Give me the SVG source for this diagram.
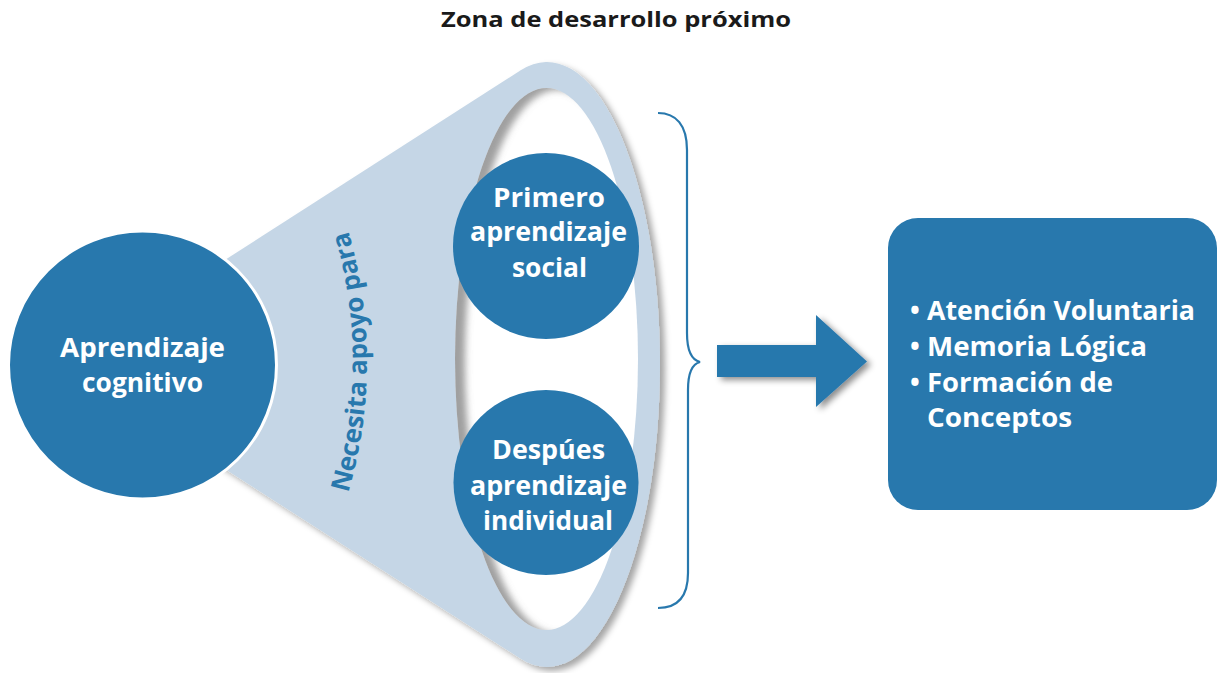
<svg xmlns="http://www.w3.org/2000/svg" width="1217" height="673" viewBox="0 0 1217 673">
<style>
.t{font-family:"Open Sans",Lato,"Liberation Sans",sans-serif;font-weight:bold;}
.w{fill:#ffffff;font-size:27px;text-anchor:middle;}
.node{fill:#2878ad;}
.lt{fill:#c5d6e6;}
.bx{fill:#ffffff;font-size:26px;}
</style>
<defs>
<filter id="sh" x="-20%" y="-20%" width="140%" height="140%">
<feGaussianBlur in="SourceAlpha" stdDeviation="3"/>
<feOffset dx="4" dy="3" result="b"/>
<feFlood flood-color="#000" flood-opacity="0.45"/>
<feComposite in2="b" operator="in"/>
<feMerge><feMergeNode/><feMergeNode in="SourceGraphic"/></feMerge>
</filter>
<filter id="sh2" x="-20%" y="-20%" width="140%" height="140%">
<feGaussianBlur in="SourceAlpha" stdDeviation="3"/>
<feOffset dx="5" dy="4" result="b"/>
<feFlood flood-color="#000" flood-opacity="0.35"/>
<feComposite in2="b" operator="in"/>
<feMerge><feMergeNode/><feMergeNode in="SourceGraphic"/></feMerge>
</filter>
<filter id="blur" x="-10%" y="-10%" width="120%" height="120%"><feGaussianBlur stdDeviation="3.5"/></filter>
<clipPath id="inner"><ellipse cx="546.5" cy="359" rx="91.5" ry="271"/></clipPath>
<path id="arc" d="M345.5,502 A467,467 0 0 0 345.5,222"/>
</defs>

<g id="title">
<text class="t" x="616" y="27" font-size="21" fill="#1a1a1a" text-anchor="middle" textLength="350" lengthAdjust="spacingAndGlyphs">Zona de desarrollo próximo</text>
</g>

<g id="funnel">
<path class="lt" filter="url(#sh2)" d="M150,308 L520.7,70.3 A113,302.5 0 1 1 520.7,658.7 L150,421 Z"/>
<ellipse cx="546.5" cy="359" rx="91.5" ry="271" fill="#ffffff"/>
<g clip-path="url(#inner)">
<path fill="#777777" fill-opacity="0.7" fill-rule="evenodd" filter="url(#blur)" d="M400,60 H700 V660 H400 Z M649,362 A92,272 0 1 0 465,362 A92,272 0 1 0 649,362 Z"/>
</g>
</g>

<g id="apoyo">
<text class="t" font-size="26" fill="#2878ad"><textPath href="#arc" startOffset="50%" text-anchor="middle">Necesita apoyo para</textPath></text>
</g>

<g id="aprendizaje-cognitivo">
<circle class="node" cx="142.5" cy="365" r="134" stroke="#ffffff" stroke-width="3"/>
<text class="t w" x="142.5" y="357" textLength="165" lengthAdjust="spacingAndGlyphs">Aprendizaje</text>
<text class="t w" x="142.5" y="392" textLength="121" lengthAdjust="spacingAndGlyphs">cognitivo</text>
</g>

<g id="primero">
<circle class="node" cx="546" cy="246" r="93"/>
<text class="t w" x="549" y="207" textLength="112" lengthAdjust="spacingAndGlyphs">Primero</text>
<text class="t w" x="548.5" y="241" textLength="157" lengthAdjust="spacingAndGlyphs">aprendizaje</text>
<text class="t w" x="549.5" y="277" textLength="75" lengthAdjust="spacingAndGlyphs">social</text>
</g>

<g id="despues">
<circle class="node" cx="546" cy="482.5" r="92.5"/>
<text class="t w" x="548.5" y="459" textLength="113" lengthAdjust="spacingAndGlyphs">Despúes</text>
<text class="t w" x="548.5" y="495" textLength="157" lengthAdjust="spacingAndGlyphs">aprendizaje</text>
<text class="t w" x="548" y="530" textLength="130" lengthAdjust="spacingAndGlyphs">individual</text>
</g>

<g id="connectors">
<path d="M658,113 C676,113 687,125 687,150 L687,333 C687,352 692,360 700,362 C692,364 688,372 688,390 L688,573 C688,598 676,608 658,608" fill="none" stroke="#2878ad" stroke-width="2.2"/>
<polygon class="node" filter="url(#sh)" points="717,345 816,345 816,315 867,361.5 816,407 816,377 717,377"/>
</g>

<g id="funciones">
<rect class="node" x="888" y="218" width="329" height="292" rx="30"/>
<text class="t bx" x="910" y="320" font-size="22">•</text>
<text class="t bx" x="927" y="320" textLength="268" lengthAdjust="spacingAndGlyphs">Atención Voluntaria</text>
<text class="t bx" x="910" y="356" font-size="22">•</text>
<text class="t bx" x="927" y="356" textLength="220" lengthAdjust="spacingAndGlyphs">Memoria Lógica</text>
<text class="t bx" x="910" y="392" font-size="22">•</text>
<text class="t bx" x="927" y="392" textLength="186" lengthAdjust="spacingAndGlyphs">Formación de</text>
<text class="t bx" x="927" y="427" textLength="145" lengthAdjust="spacingAndGlyphs">Conceptos</text>
</g>
</svg>
